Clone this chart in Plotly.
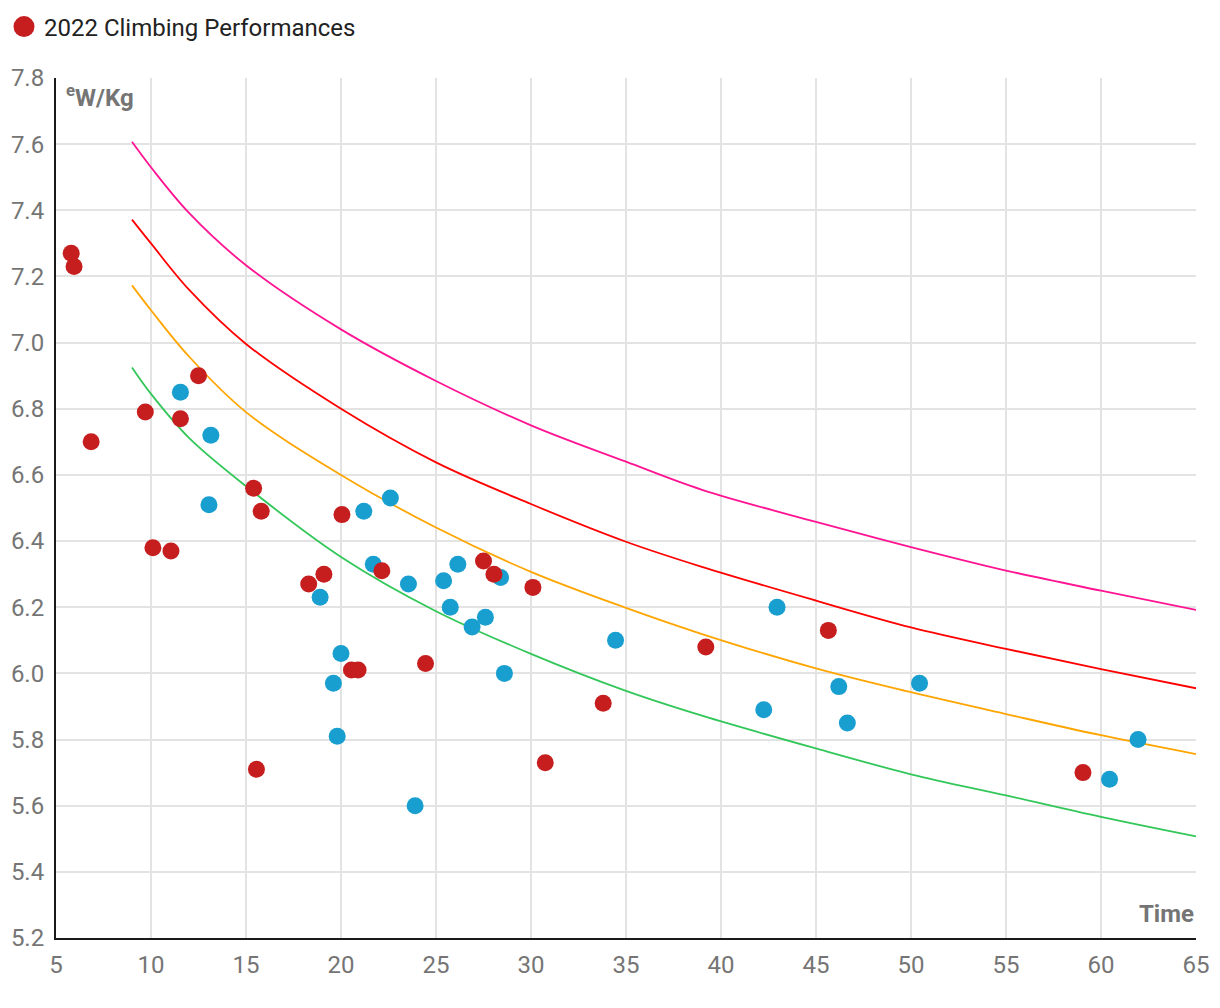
import plotly.graph_objects as go

# 2022 performances (red)
red_time = [5.8, 5.95, 6.85, 9.7, 10.1, 11.05, 11.55, 12.5, 15.4, 15.8, 15.55, 18.3, 19.1,
            20.05, 20.55, 20.9, 22.15, 24.45, 27.5, 28.05, 30.1, 30.75, 33.8, 39.2, 45.65, 59.05]
red_wkg = [7.27, 7.23, 6.70, 6.79, 6.38, 6.37, 6.77, 6.90, 6.56, 6.49, 5.71, 6.27, 6.30,
           6.48, 6.01, 6.01, 6.31, 6.03, 6.34, 6.30, 6.26, 5.73, 5.91, 6.08, 6.13, 5.70]

# other performances (blue)
blue_time = [11.55, 13.15, 13.05, 18.9, 20.0, 19.6, 19.8, 21.2, 22.6, 21.7, 23.55, 23.9,
             25.4, 25.75, 26.15, 26.9, 27.6, 28.4, 28.6, 34.45, 42.25, 42.95, 46.2, 46.65,
             50.45, 60.45, 61.95]
blue_wkg = [6.85, 6.72, 6.51, 6.23, 6.06, 5.97, 5.81, 6.49, 6.53, 6.33, 6.27, 5.60,
            6.28, 6.20, 6.33, 6.14, 6.17, 6.29, 6.00, 6.10, 5.89, 6.20, 5.96, 5.85,
            5.97, 5.68, 5.80]

# reference curves
curve_time = [9, 10, 12, 15, 20, 25, 30, 35, 39, 45, 50, 55, 60, 65]
curve_magenta = [7.607, 7.530, 7.392, 7.234, 7.040, 6.884, 6.750, 6.640, 6.555, 6.458, 6.382, 6.311, 6.250, 6.192]
curve_red = [7.372, 7.300, 7.160, 6.996, 6.800, 6.638, 6.512, 6.398, 6.322, 6.220, 6.139, 6.074, 6.013, 5.955]
curve_orange = [7.173, 7.098, 6.958, 6.790, 6.600, 6.441, 6.307, 6.198, 6.119, 6.015, 5.943, 5.877, 5.813, 5.756]
curve_green = [6.925, 6.845, 6.712, 6.566, 6.352, 6.188, 6.059, 5.947, 5.872, 5.773, 5.695, 5.631, 5.566, 5.507]

x_ticks = [5, 10, 15, 20, 25, 30, 35, 40, 45, 50, 55, 60, 65]
y_ticks = [5.2, 5.4, 5.6, 5.8, 6.0, 6.2, 6.4, 6.6, 6.8, 7.0, 7.2, 7.4, 7.6, 7.8]

RED = "#c61e1f"
BLUE = "#199fcf"

W, H = 1204, 992
L, R, T, B = 48, 16, 70, 62

fig = go.Figure()
for ys, col in [(curve_magenta, "#ff1493"), (curve_red, "#ff0000"),
                (curve_orange, "#ffa500"), (curve_green, "#33c75a")]:
    fig.add_trace(go.Scatter(x=curve_time, y=ys, mode="lines",
                             line=dict(color=col, width=1.8, shape="spline", smoothing=1.0),
                             showlegend=False, hoverinfo="skip"))

fig.add_trace(go.Scatter(x=blue_time, y=blue_wkg, mode="markers",
                         marker=dict(color=BLUE, size=17), showlegend=False))
fig.add_trace(go.Scatter(x=red_time, y=red_wkg, mode="markers",
                         marker=dict(color=RED, size=17), showlegend=False))
# legend entry
fig.add_trace(go.Scatter(x=[None], y=[None], mode="markers", name="2022 Climbing Performances",
                         marker=dict(color=RED, size=16, line=dict(color=RED, width=5))))

fig.update_layout(
    width=W, height=H,
    margin=dict(l=L, r=R, t=T, b=B, autoexpand=False),
    paper_bgcolor="white", plot_bgcolor="white",
    font=dict(family="Roboto", size=24, color="#757575"),
    showlegend=True,
    legend=dict(xref="paper", yref="container", x=-52 / (W - L - R), y=1 - 19 / H,
                xanchor="left", yanchor="middle", orientation="h",
                font=dict(size=24, color="#222222"), itemwidth=30,
                bgcolor="rgba(0,0,0,0)"),
    xaxis=dict(range=[5, 65], tickvals=x_ticks, showgrid=True, gridcolor="#e3e3e3",
               gridwidth=2, showline=True, linecolor="#1a1a1a", linewidth=2,
               zeroline=False, ticks="", ticklen=0, ticklabelstandoff=4, automargin=False,
               tickfont=dict(size=24, color="#757575")),
    yaxis=dict(range=[5.2, 7.8], tickvals=y_ticks, tickformat=".1f", showgrid=True,
               gridcolor="#e3e3e3", gridwidth=2, showline=True, linecolor="#1a1a1a",
               linewidth=2, zeroline=False, ticks="", ticklen=0, ticklabelstandoff=5,
               automargin=False, tickfont=dict(size=24, color="#757575")),
    annotations=[
        dict(text="<b><sup>e</sup>W/Kg</b>", xref="paper", yref="paper", x=0, y=1,
             xanchor="left", yanchor="top", xshift=8, yshift=0, showarrow=False,
             font=dict(size=24, color="#757575")),
        dict(text="<b>Time</b>", xref="paper", yref="paper", x=1, y=0,
             xanchor="right", yanchor="bottom", xshift=0, yshift=8, showarrow=False,
             font=dict(size=24, color="#757575")),
    ],
)

fig.write_html("out.html")
